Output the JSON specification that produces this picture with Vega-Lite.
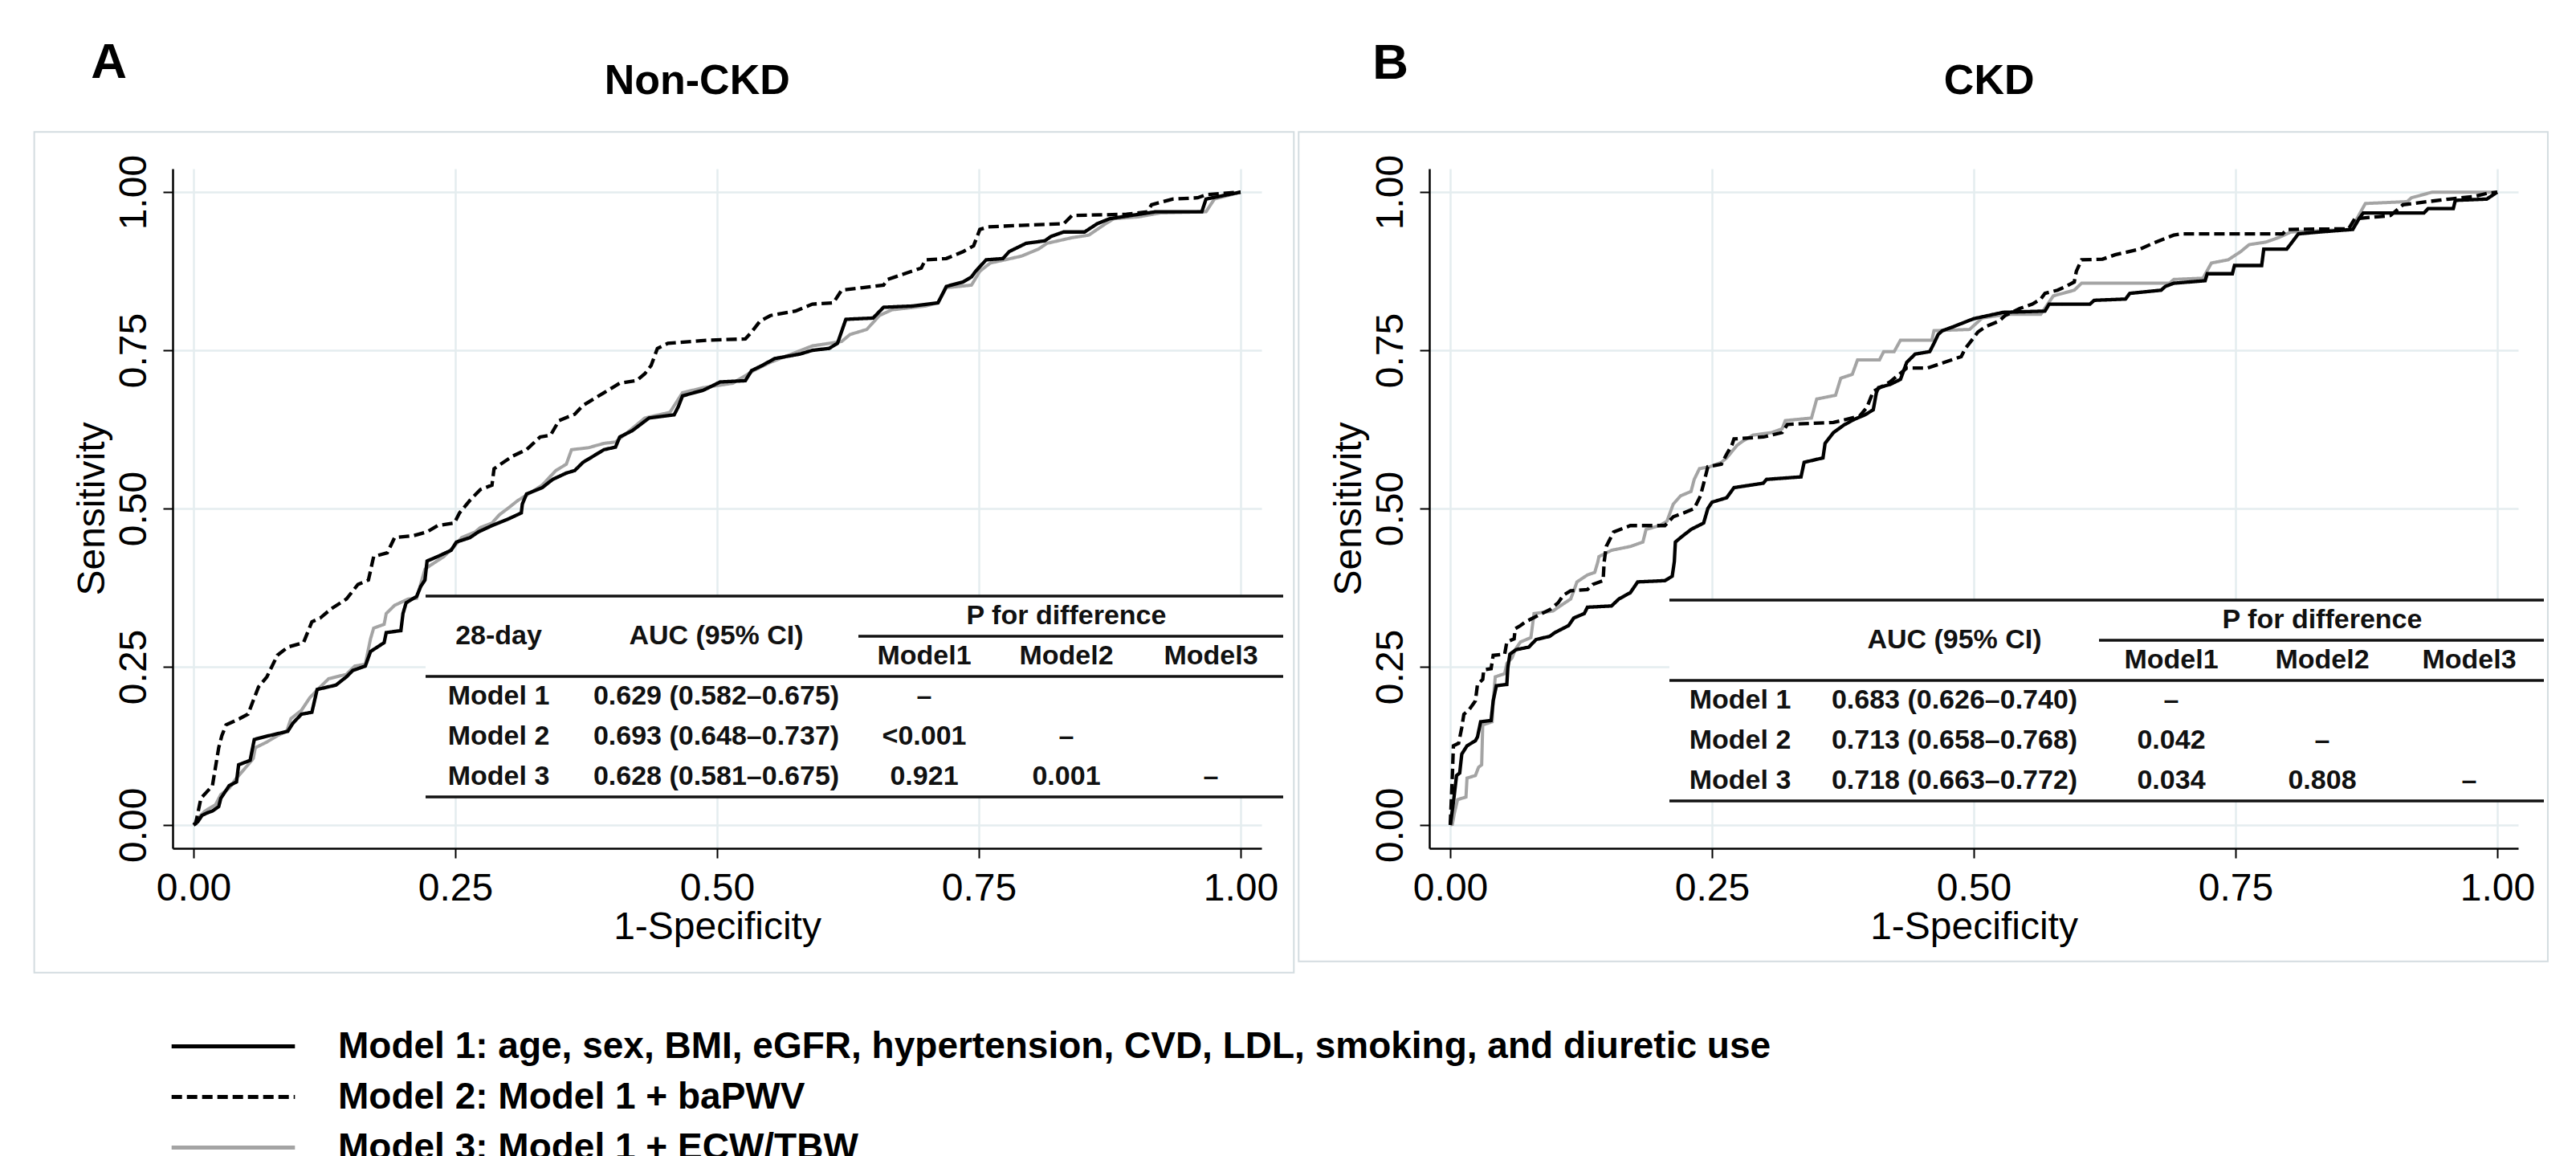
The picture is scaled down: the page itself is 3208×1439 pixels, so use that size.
{
  "$schema": "https://vega.github.io/schema/vega-lite/v6.json",
  "background": "white",
  "padding": {"left": 41, "top": 47, "right": 5, "bottom": 0},
  "bounds": "flush",
  "spacing": 209,
  "datasets": {
    "rocA": [
      {"m":"Model 1","x":0,"y":0},{"m":"Model 1","x":0.004,"y":0.005},{"m":"Model 1","x":0.008,"y":0.015},{"m":"Model 1","x":0.013,"y":0.019},{"m":"Model 1","x":0.018,"y":0.022},{"m":"Model 1","x":0.024,"y":0.029},{"m":"Model 1","x":0.026,"y":0.042},{"m":"Model 1","x":0.034,"y":0.062},{"m":"Model 1","x":0.041,"y":0.068},{"m":"Model 1","x":0.043,"y":0.095},{"m":"Model 1","x":0.054,"y":0.102},{"m":"Model 1","x":0.058,"y":0.135},{"m":"Model 1","x":0.072,"y":0.141},{"m":"Model 1","x":0.09,"y":0.148},{"m":"Model 1","x":0.095,"y":0.161},{"m":"Model 1","x":0.103,"y":0.175},{"m":"Model 1","x":0.113,"y":0.178},{"m":"Model 1","x":0.118,"y":0.214},{"m":"Model 1","x":0.136,"y":0.221},{"m":"Model 1","x":0.146,"y":0.234},{"m":"Model 1","x":0.152,"y":0.244},{"m":"Model 1","x":0.164,"y":0.251},{"m":"Model 1","x":0.169,"y":0.274},{"m":"Model 1","x":0.182,"y":0.288},{"m":"Model 1","x":0.184,"y":0.304},{"m":"Model 1","x":0.198,"y":0.307},{"m":"Model 1","x":0.2,"y":0.334},{"m":"Model 1","x":0.203,"y":0.351},{"m":"Model 1","x":0.213,"y":0.361},{"m":"Model 1","x":0.217,"y":0.377},{"m":"Model 1","x":0.221,"y":0.387},{"m":"Model 1","x":0.223,"y":0.417},{"m":"Model 1","x":0.233,"y":0.424},{"m":"Model 1","x":0.246,"y":0.434},{"m":"Model 1","x":0.251,"y":0.447},{"m":"Model 1","x":0.264,"y":0.454},{"m":"Model 1","x":0.272,"y":0.463},{"m":"Model 1","x":0.285,"y":0.473},{"m":"Model 1","x":0.3,"y":0.483},{"m":"Model 1","x":0.313,"y":0.493},{"m":"Model 1","x":0.314,"y":0.507},{"m":"Model 1","x":0.318,"y":0.523},{"m":"Model 1","x":0.333,"y":0.533},{"m":"Model 1","x":0.343,"y":0.546},{"m":"Model 1","x":0.356,"y":0.556},{"m":"Model 1","x":0.364,"y":0.56},{"m":"Model 1","x":0.372,"y":0.573},{"m":"Model 1","x":0.382,"y":0.583},{"m":"Model 1","x":0.392,"y":0.593},{"m":"Model 1","x":0.403,"y":0.597},{"m":"Model 1","x":0.407,"y":0.613},{"m":"Model 1","x":0.419,"y":0.623},{"m":"Model 1","x":0.435,"y":0.643},{"m":"Model 1","x":0.459,"y":0.648},{"m":"Model 1","x":0.463,"y":0.661},{"m":"Model 1","x":0.467,"y":0.678},{"m":"Model 1","x":0.487,"y":0.687},{"m":"Model 1","x":0.503,"y":0.7},{"m":"Model 1","x":0.527,"y":0.702},{"m":"Model 1","x":0.533,"y":0.718},{"m":"Model 1","x":0.543,"y":0.726},{"m":"Model 1","x":0.555,"y":0.737},{"m":"Model 1","x":0.579,"y":0.744},{"m":"Model 1","x":0.591,"y":0.75},{"m":"Model 1","x":0.607,"y":0.753},{"m":"Model 1","x":0.615,"y":0.761},{"m":"Model 1","x":0.623,"y":0.799},{"m":"Model 1","x":0.649,"y":0.801},{"m":"Model 1","x":0.659,"y":0.818},{"m":"Model 1","x":0.687,"y":0.82},{"m":"Model 1","x":0.711,"y":0.825},{"m":"Model 1","x":0.719,"y":0.851},{"m":"Model 1","x":0.735,"y":0.858},{"m":"Model 1","x":0.743,"y":0.866},{"m":"Model 1","x":0.747,"y":0.875},{"m":"Model 1","x":0.757,"y":0.893},{"m":"Model 1","x":0.773,"y":0.895},{"m":"Model 1","x":0.779,"y":0.906},{"m":"Model 1","x":0.795,"y":0.919},{"m":"Model 1","x":0.813,"y":0.923},{"m":"Model 1","x":0.819,"y":0.93},{"m":"Model 1","x":0.831,"y":0.937},{"m":"Model 1","x":0.851,"y":0.937},{"m":"Model 1","x":0.863,"y":0.95},{"m":"Model 1","x":0.875,"y":0.958},{"m":"Model 1","x":0.903,"y":0.965},{"m":"Model 1","x":0.919,"y":0.969},{"m":"Model 1","x":0.963,"y":0.969},{"m":"Model 1","x":0.967,"y":0.989},{"m":"Model 1","x":1,"y":1},
      {"m":"Model 2","x":0,"y":0},{"m":"Model 2","x":0.002,"y":0.002},{"m":"Model 2","x":0.007,"y":0.042},{"m":"Model 2","x":0.018,"y":0.062},{"m":"Model 2","x":0.024,"y":0.122},{"m":"Model 2","x":0.027,"y":0.141},{"m":"Model 2","x":0.031,"y":0.158},{"m":"Model 2","x":0.044,"y":0.168},{"m":"Model 2","x":0.052,"y":0.175},{"m":"Model 2","x":0.062,"y":0.218},{"m":"Model 2","x":0.07,"y":0.234},{"m":"Model 2","x":0.08,"y":0.268},{"m":"Model 2","x":0.09,"y":0.281},{"m":"Model 2","x":0.105,"y":0.288},{"m":"Model 2","x":0.113,"y":0.321},{"m":"Model 2","x":0.121,"y":0.327},{"m":"Model 2","x":0.131,"y":0.341},{"m":"Model 2","x":0.146,"y":0.357},{"m":"Model 2","x":0.157,"y":0.38},{"m":"Model 2","x":0.167,"y":0.387},{"m":"Model 2","x":0.172,"y":0.424},{"m":"Model 2","x":0.185,"y":0.43},{"m":"Model 2","x":0.192,"y":0.454},{"m":"Model 2","x":0.21,"y":0.457},{"m":"Model 2","x":0.223,"y":0.463},{"m":"Model 2","x":0.233,"y":0.473},{"m":"Model 2","x":0.249,"y":0.477},{"m":"Model 2","x":0.254,"y":0.493},{"m":"Model 2","x":0.264,"y":0.513},{"m":"Model 2","x":0.274,"y":0.53},{"m":"Model 2","x":0.285,"y":0.537},{"m":"Model 2","x":0.287,"y":0.563},{"m":"Model 2","x":0.305,"y":0.583},{"m":"Model 2","x":0.318,"y":0.593},{"m":"Model 2","x":0.331,"y":0.613},{"m":"Model 2","x":0.341,"y":0.616},{"m":"Model 2","x":0.349,"y":0.639},{"m":"Model 2","x":0.364,"y":0.649},{"m":"Model 2","x":0.372,"y":0.663},{"m":"Model 2","x":0.382,"y":0.673},{"m":"Model 2","x":0.392,"y":0.683},{"m":"Model 2","x":0.4,"y":0.691},{"m":"Model 2","x":0.407,"y":0.698},{"m":"Model 2","x":0.423,"y":0.702},{"m":"Model 2","x":0.431,"y":0.713},{"m":"Model 2","x":0.437,"y":0.726},{"m":"Model 2","x":0.443,"y":0.753},{"m":"Model 2","x":0.453,"y":0.761},{"m":"Model 2","x":0.491,"y":0.766},{"m":"Model 2","x":0.527,"y":0.768},{"m":"Model 2","x":0.533,"y":0.779},{"m":"Model 2","x":0.541,"y":0.796},{"m":"Model 2","x":0.551,"y":0.805},{"m":"Model 2","x":0.575,"y":0.812},{"m":"Model 2","x":0.591,"y":0.823},{"m":"Model 2","x":0.611,"y":0.825},{"m":"Model 2","x":0.619,"y":0.845},{"m":"Model 2","x":0.639,"y":0.849},{"m":"Model 2","x":0.659,"y":0.853},{"m":"Model 2","x":0.663,"y":0.862},{"m":"Model 2","x":0.679,"y":0.871},{"m":"Model 2","x":0.695,"y":0.88},{"m":"Model 2","x":0.699,"y":0.893},{"m":"Model 2","x":0.719,"y":0.895},{"m":"Model 2","x":0.735,"y":0.906},{"m":"Model 2","x":0.745,"y":0.915},{"m":"Model 2","x":0.751,"y":0.941},{"m":"Model 2","x":0.759,"y":0.945},{"m":"Model 2","x":0.783,"y":0.947},{"m":"Model 2","x":0.831,"y":0.95},{"m":"Model 2","x":0.839,"y":0.963},{"m":"Model 2","x":0.891,"y":0.965},{"m":"Model 2","x":0.911,"y":0.969},{"m":"Model 2","x":0.915,"y":0.98},{"m":"Model 2","x":0.935,"y":0.989},{"m":"Model 2","x":0.959,"y":0.991},{"m":"Model 2","x":0.967,"y":0.996},{"m":"Model 2","x":1,"y":1},
      {"m":"Model 3","x":0,"y":0},{"m":"Model 3","x":0.003,"y":0.009},{"m":"Model 3","x":0.011,"y":0.022},{"m":"Model 3","x":0.021,"y":0.032},{"m":"Model 3","x":0.026,"y":0.048},{"m":"Model 3","x":0.034,"y":0.058},{"m":"Model 3","x":0.04,"y":0.072},{"m":"Model 3","x":0.052,"y":0.095},{"m":"Model 3","x":0.057,"y":0.105},{"m":"Model 3","x":0.059,"y":0.122},{"m":"Model 3","x":0.07,"y":0.131},{"m":"Model 3","x":0.08,"y":0.141},{"m":"Model 3","x":0.089,"y":0.148},{"m":"Model 3","x":0.093,"y":0.168},{"m":"Model 3","x":0.103,"y":0.181},{"m":"Model 3","x":0.111,"y":0.201},{"m":"Model 3","x":0.121,"y":0.218},{"m":"Model 3","x":0.129,"y":0.231},{"m":"Model 3","x":0.146,"y":0.238},{"m":"Model 3","x":0.154,"y":0.251},{"m":"Model 3","x":0.164,"y":0.254},{"m":"Model 3","x":0.169,"y":0.294},{"m":"Model 3","x":0.172,"y":0.311},{"m":"Model 3","x":0.182,"y":0.317},{"m":"Model 3","x":0.184,"y":0.334},{"m":"Model 3","x":0.192,"y":0.347},{"m":"Model 3","x":0.205,"y":0.357},{"m":"Model 3","x":0.213,"y":0.358},{"m":"Model 3","x":0.218,"y":0.387},{"m":"Model 3","x":0.221,"y":0.404},{"m":"Model 3","x":0.226,"y":0.41},{"m":"Model 3","x":0.239,"y":0.424},{"m":"Model 3","x":0.249,"y":0.44},{"m":"Model 3","x":0.256,"y":0.454},{"m":"Model 3","x":0.269,"y":0.463},{"m":"Model 3","x":0.274,"y":0.47},{"m":"Model 3","x":0.285,"y":0.477},{"m":"Model 3","x":0.292,"y":0.49},{"m":"Model 3","x":0.3,"y":0.5},{"m":"Model 3","x":0.31,"y":0.513},{"m":"Model 3","x":0.32,"y":0.523},{"m":"Model 3","x":0.333,"y":0.537},{"m":"Model 3","x":0.346,"y":0.56},{"m":"Model 3","x":0.356,"y":0.57},{"m":"Model 3","x":0.361,"y":0.593},{"m":"Model 3","x":0.377,"y":0.596},{"m":"Model 3","x":0.392,"y":0.603},{"m":"Model 3","x":0.403,"y":0.605},{"m":"Model 3","x":0.415,"y":0.621},{"m":"Model 3","x":0.431,"y":0.643},{"m":"Model 3","x":0.455,"y":0.652},{"m":"Model 3","x":0.467,"y":0.683},{"m":"Model 3","x":0.487,"y":0.691},{"m":"Model 3","x":0.515,"y":0.698},{"m":"Model 3","x":0.535,"y":0.718},{"m":"Model 3","x":0.551,"y":0.731},{"m":"Model 3","x":0.571,"y":0.744},{"m":"Model 3","x":0.591,"y":0.757},{"m":"Model 3","x":0.619,"y":0.764},{"m":"Model 3","x":0.627,"y":0.775},{"m":"Model 3","x":0.643,"y":0.783},{"m":"Model 3","x":0.655,"y":0.805},{"m":"Model 3","x":0.667,"y":0.814},{"m":"Model 3","x":0.699,"y":0.82},{"m":"Model 3","x":0.711,"y":0.825},{"m":"Model 3","x":0.719,"y":0.849},{"m":"Model 3","x":0.743,"y":0.853},{"m":"Model 3","x":0.751,"y":0.875},{"m":"Model 3","x":0.761,"y":0.888},{"m":"Model 3","x":0.775,"y":0.893},{"m":"Model 3","x":0.791,"y":0.899},{"m":"Model 3","x":0.807,"y":0.91},{"m":"Model 3","x":0.815,"y":0.919},{"m":"Model 3","x":0.839,"y":0.928},{"m":"Model 3","x":0.855,"y":0.932},{"m":"Model 3","x":0.871,"y":0.95},{"m":"Model 3","x":0.879,"y":0.958},{"m":"Model 3","x":0.903,"y":0.961},{"m":"Model 3","x":0.923,"y":0.967},{"m":"Model 3","x":0.967,"y":0.969},{"m":"Model 3","x":0.975,"y":0.989},{"m":"Model 3","x":1,"y":1}
    ],
    "rocB": [
      {"m":"Model 1","x":0,"y":0},{"m":"Model 1","x":0.001,"y":0.011},{"m":"Model 1","x":0.003,"y":0.036},{"m":"Model 1","x":0.006,"y":0.078},{"m":"Model 1","x":0.009,"y":0.082},{"m":"Model 1","x":0.011,"y":0.112},{"m":"Model 1","x":0.016,"y":0.125},{"m":"Model 1","x":0.024,"y":0.133},{"m":"Model 1","x":0.026,"y":0.139},{"m":"Model 1","x":0.029,"y":0.163},{"m":"Model 1","x":0.039,"y":0.165},{"m":"Model 1","x":0.041,"y":0.196},{"m":"Model 1","x":0.044,"y":0.22},{"m":"Model 1","x":0.054,"y":0.222},{"m":"Model 1","x":0.055,"y":0.249},{"m":"Model 1","x":0.057,"y":0.27},{"m":"Model 1","x":0.063,"y":0.277},{"m":"Model 1","x":0.075,"y":0.281},{"m":"Model 1","x":0.082,"y":0.293},{"m":"Model 1","x":0.095,"y":0.298},{"m":"Model 1","x":0.1,"y":0.304},{"m":"Model 1","x":0.113,"y":0.315},{"m":"Model 1","x":0.118,"y":0.327},{"m":"Model 1","x":0.128,"y":0.334},{"m":"Model 1","x":0.131,"y":0.344},{"m":"Model 1","x":0.154,"y":0.346},{"m":"Model 1","x":0.161,"y":0.357},{"m":"Model 1","x":0.172,"y":0.367},{"m":"Model 1","x":0.179,"y":0.384},{"m":"Model 1","x":0.205,"y":0.386},{"m":"Model 1","x":0.212,"y":0.393},{"m":"Model 1","x":0.214,"y":0.416},{"m":"Model 1","x":0.215,"y":0.447},{"m":"Model 1","x":0.22,"y":0.454},{"m":"Model 1","x":0.23,"y":0.467},{"m":"Model 1","x":0.242,"y":0.477},{"m":"Model 1","x":0.246,"y":0.5},{"m":"Model 1","x":0.25,"y":0.51},{"m":"Model 1","x":0.264,"y":0.517},{"m":"Model 1","x":0.271,"y":0.533},{"m":"Model 1","x":0.299,"y":0.54},{"m":"Model 1","x":0.302,"y":0.546},{"m":"Model 1","x":0.335,"y":0.55},{"m":"Model 1","x":0.338,"y":0.573},{"m":"Model 1","x":0.356,"y":0.58},{"m":"Model 1","x":0.358,"y":0.603},{"m":"Model 1","x":0.366,"y":0.62},{"m":"Model 1","x":0.376,"y":0.632},{"m":"Model 1","x":0.386,"y":0.641},{"m":"Model 1","x":0.396,"y":0.648},{"m":"Model 1","x":0.404,"y":0.656},{"m":"Model 1","x":0.407,"y":0.683},{"m":"Model 1","x":0.409,"y":0.691},{"m":"Model 1","x":0.42,"y":0.696},{"m":"Model 1","x":0.43,"y":0.704},{"m":"Model 1","x":0.436,"y":0.731},{"m":"Model 1","x":0.444,"y":0.744},{"m":"Model 1","x":0.458,"y":0.748},{"m":"Model 1","x":0.462,"y":0.761},{"m":"Model 1","x":0.466,"y":0.775},{"m":"Model 1","x":0.47,"y":0.781},{"m":"Model 1","x":0.48,"y":0.787},{"m":"Model 1","x":0.5,"y":0.8},{"m":"Model 1","x":0.528,"y":0.81},{"m":"Model 1","x":0.568,"y":0.812},{"m":"Model 1","x":0.572,"y":0.823},{"m":"Model 1","x":0.611,"y":0.823},{"m":"Model 1","x":0.615,"y":0.829},{"m":"Model 1","x":0.645,"y":0.831},{"m":"Model 1","x":0.649,"y":0.84},{"m":"Model 1","x":0.679,"y":0.845},{"m":"Model 1","x":0.683,"y":0.851},{"m":"Model 1","x":0.691,"y":0.856},{"m":"Model 1","x":0.721,"y":0.86},{"m":"Model 1","x":0.723,"y":0.871},{"m":"Model 1","x":0.747,"y":0.871},{"m":"Model 1","x":0.749,"y":0.884},{"m":"Model 1","x":0.775,"y":0.884},{"m":"Model 1","x":0.777,"y":0.91},{"m":"Model 1","x":0.799,"y":0.91},{"m":"Model 1","x":0.805,"y":0.923},{"m":"Model 1","x":0.81,"y":0.934},{"m":"Model 1","x":0.83,"y":0.937},{"m":"Model 1","x":0.862,"y":0.941},{"m":"Model 1","x":0.868,"y":0.958},{"m":"Model 1","x":0.872,"y":0.967},{"m":"Model 1","x":0.93,"y":0.967},{"m":"Model 1","x":0.934,"y":0.974},{"m":"Model 1","x":0.958,"y":0.974},{"m":"Model 1","x":0.96,"y":0.987},{"m":"Model 1","x":0.99,"y":0.989},{"m":"Model 1","x":1,"y":1},
      {"m":"Model 2","x":0,"y":0},{"m":"Model 2","x":0.002,"y":0.078},{"m":"Model 2","x":0.003,"y":0.125},{"m":"Model 2","x":0.008,"y":0.129},{"m":"Model 2","x":0.011,"y":0.154},{"m":"Model 2","x":0.013,"y":0.175},{"m":"Model 2","x":0.018,"y":0.182},{"m":"Model 2","x":0.024,"y":0.196},{"m":"Model 2","x":0.026,"y":0.222},{"m":"Model 2","x":0.031,"y":0.23},{"m":"Model 2","x":0.032,"y":0.245},{"m":"Model 2","x":0.039,"y":0.247},{"m":"Model 2","x":0.041,"y":0.268},{"m":"Model 2","x":0.052,"y":0.27},{"m":"Model 2","x":0.054,"y":0.289},{"m":"Model 2","x":0.061,"y":0.294},{"m":"Model 2","x":0.062,"y":0.31},{"m":"Model 2","x":0.067,"y":0.315},{"m":"Model 2","x":0.072,"y":0.321},{"m":"Model 2","x":0.085,"y":0.332},{"m":"Model 2","x":0.095,"y":0.34},{"m":"Model 2","x":0.103,"y":0.351},{"m":"Model 2","x":0.108,"y":0.363},{"m":"Model 2","x":0.115,"y":0.37},{"m":"Model 2","x":0.131,"y":0.372},{"m":"Model 2","x":0.136,"y":0.38},{"m":"Model 2","x":0.146,"y":0.386},{"m":"Model 2","x":0.147,"y":0.416},{"m":"Model 2","x":0.149,"y":0.44},{"m":"Model 2","x":0.156,"y":0.463},{"m":"Model 2","x":0.172,"y":0.473},{"m":"Model 2","x":0.205,"y":0.473},{"m":"Model 2","x":0.213,"y":0.487},{"m":"Model 2","x":0.223,"y":0.493},{"m":"Model 2","x":0.233,"y":0.5},{"m":"Model 2","x":0.239,"y":0.52},{"m":"Model 2","x":0.243,"y":0.546},{"m":"Model 2","x":0.246,"y":0.566},{"m":"Model 2","x":0.259,"y":0.57},{"m":"Model 2","x":0.264,"y":0.586},{"m":"Model 2","x":0.269,"y":0.6},{"m":"Model 2","x":0.271,"y":0.61},{"m":"Model 2","x":0.299,"y":0.613},{"m":"Model 2","x":0.317,"y":0.62},{"m":"Model 2","x":0.322,"y":0.633},{"m":"Model 2","x":0.366,"y":0.636},{"m":"Model 2","x":0.391,"y":0.646},{"m":"Model 2","x":0.398,"y":0.66},{"m":"Model 2","x":0.404,"y":0.685},{"m":"Model 2","x":0.42,"y":0.7},{"m":"Model 2","x":0.436,"y":0.722},{"m":"Model 2","x":0.456,"y":0.722},{"m":"Model 2","x":0.472,"y":0.731},{"m":"Model 2","x":0.488,"y":0.74},{"m":"Model 2","x":0.492,"y":0.753},{"m":"Model 2","x":0.5,"y":0.77},{"m":"Model 2","x":0.504,"y":0.779},{"m":"Model 2","x":0.512,"y":0.788},{"m":"Model 2","x":0.524,"y":0.796},{"m":"Model 2","x":0.53,"y":0.805},{"m":"Model 2","x":0.544,"y":0.816},{"m":"Model 2","x":0.556,"y":0.823},{"m":"Model 2","x":0.564,"y":0.831},{"m":"Model 2","x":0.568,"y":0.84},{"m":"Model 2","x":0.58,"y":0.845},{"m":"Model 2","x":0.588,"y":0.851},{"m":"Model 2","x":0.596,"y":0.858},{"m":"Model 2","x":0.598,"y":0.875},{"m":"Model 2","x":0.603,"y":0.893},{"m":"Model 2","x":0.623,"y":0.894},{"m":"Model 2","x":0.635,"y":0.901},{"m":"Model 2","x":0.659,"y":0.91},{"m":"Model 2","x":0.671,"y":0.919},{"m":"Model 2","x":0.691,"y":0.932},{"m":"Model 2","x":0.699,"y":0.934},{"m":"Model 2","x":0.795,"y":0.934},{"m":"Model 2","x":0.799,"y":0.941},{"m":"Model 2","x":0.858,"y":0.942},{"m":"Model 2","x":0.864,"y":0.958},{"m":"Model 2","x":0.886,"y":0.961},{"m":"Model 2","x":0.898,"y":0.963},{"m":"Model 2","x":0.91,"y":0.98},{"m":"Model 2","x":0.934,"y":0.985},{"m":"Model 2","x":0.954,"y":0.989},{"m":"Model 2","x":0.978,"y":0.993},{"m":"Model 2","x":0.99,"y":0.998},{"m":"Model 2","x":1,"y":1},
      {"m":"Model 3","x":0,"y":0},{"m":"Model 3","x":0.002,"y":0.001},{"m":"Model 3","x":0.004,"y":0.019},{"m":"Model 3","x":0.007,"y":0.04},{"m":"Model 3","x":0.015,"y":0.044},{"m":"Model 3","x":0.016,"y":0.074},{"m":"Model 3","x":0.024,"y":0.078},{"m":"Model 3","x":0.027,"y":0.091},{"m":"Model 3","x":0.03,"y":0.095},{"m":"Model 3","x":0.031,"y":0.158},{"m":"Model 3","x":0.04,"y":0.163},{"m":"Model 3","x":0.041,"y":0.196},{"m":"Model 3","x":0.043,"y":0.234},{"m":"Model 3","x":0.052,"y":0.239},{"m":"Model 3","x":0.054,"y":0.255},{"m":"Model 3","x":0.059,"y":0.264},{"m":"Model 3","x":0.062,"y":0.277},{"m":"Model 3","x":0.067,"y":0.289},{"m":"Model 3","x":0.077,"y":0.296},{"m":"Model 3","x":0.08,"y":0.334},{"m":"Model 3","x":0.098,"y":0.338},{"m":"Model 3","x":0.105,"y":0.346},{"m":"Model 3","x":0.115,"y":0.357},{"m":"Model 3","x":0.118,"y":0.37},{"m":"Model 3","x":0.121,"y":0.384},{"m":"Model 3","x":0.131,"y":0.395},{"m":"Model 3","x":0.138,"y":0.399},{"m":"Model 3","x":0.141,"y":0.416},{"m":"Model 3","x":0.142,"y":0.424},{"m":"Model 3","x":0.154,"y":0.434},{"m":"Model 3","x":0.172,"y":0.44},{"m":"Model 3","x":0.184,"y":0.447},{"m":"Model 3","x":0.187,"y":0.467},{"m":"Model 3","x":0.2,"y":0.473},{"m":"Model 3","x":0.207,"y":0.48},{"m":"Model 3","x":0.213,"y":0.507},{"m":"Model 3","x":0.22,"y":0.52},{"m":"Model 3","x":0.23,"y":0.527},{"m":"Model 3","x":0.233,"y":0.546},{"m":"Model 3","x":0.238,"y":0.563},{"m":"Model 3","x":0.248,"y":0.566},{"m":"Model 3","x":0.259,"y":0.573},{"m":"Model 3","x":0.264,"y":0.58},{"m":"Model 3","x":0.274,"y":0.6},{"m":"Model 3","x":0.279,"y":0.606},{"m":"Model 3","x":0.289,"y":0.616},{"m":"Model 3","x":0.307,"y":0.62},{"m":"Model 3","x":0.317,"y":0.626},{"m":"Model 3","x":0.32,"y":0.639},{"m":"Model 3","x":0.345,"y":0.643},{"m":"Model 3","x":0.35,"y":0.673},{"m":"Model 3","x":0.368,"y":0.679},{"m":"Model 3","x":0.373,"y":0.706},{"m":"Model 3","x":0.384,"y":0.712},{"m":"Model 3","x":0.389,"y":0.735},{"m":"Model 3","x":0.41,"y":0.735},{"m":"Model 3","x":0.414,"y":0.748},{"m":"Model 3","x":0.424,"y":0.748},{"m":"Model 3","x":0.43,"y":0.766},{"m":"Model 3","x":0.46,"y":0.766},{"m":"Model 3","x":0.462,"y":0.781},{"m":"Model 3","x":0.496,"y":0.783},{"m":"Model 3","x":0.508,"y":0.801},{"m":"Model 3","x":0.532,"y":0.807},{"m":"Model 3","x":0.564,"y":0.807},{"m":"Model 3","x":0.576,"y":0.836},{"m":"Model 3","x":0.596,"y":0.845},{"m":"Model 3","x":0.603,"y":0.856},{"m":"Model 3","x":0.687,"y":0.856},{"m":"Model 3","x":0.691,"y":0.862},{"m":"Model 3","x":0.719,"y":0.864},{"m":"Model 3","x":0.727,"y":0.888},{"m":"Model 3","x":0.743,"y":0.893},{"m":"Model 3","x":0.755,"y":0.906},{"m":"Model 3","x":0.763,"y":0.917},{"m":"Model 3","x":0.779,"y":0.921},{"m":"Model 3","x":0.791,"y":0.928},{"m":"Model 3","x":0.803,"y":0.937},{"m":"Model 3","x":0.858,"y":0.941},{"m":"Model 3","x":0.866,"y":0.958},{"m":"Model 3","x":0.874,"y":0.982},{"m":"Model 3","x":0.914,"y":0.985},{"m":"Model 3","x":0.918,"y":0.991},{"m":"Model 3","x":0.938,"y":1},{"m":"Model 3","x":1,"y":1}
    ],
    "tabA": [
      {"c":3,"r":0,"t":"P for difference"},
      {"c":0,"r":0.5,"t":"28-day"},{"c":1,"r":0.5,"t":"AUC (95% CI)"},
      {"c":2,"r":1,"t":"Model1"},{"c":3,"r":1,"t":"Model2"},{"c":4,"r":1,"t":"Model3"},
      {"c":0,"r":2,"t":"Model 1"},{"c":1,"r":2,"t":"0.629 (0.582–0.675)"},{"c":2,"r":2,"t":"–"},
      {"c":0,"r":3,"t":"Model 2"},{"c":1,"r":3,"t":"0.693 (0.648–0.737)"},{"c":2,"r":3,"t":"<0.001"},{"c":3,"r":3,"t":"–"},
      {"c":0,"r":4,"t":"Model 3"},{"c":1,"r":4,"t":"0.628 (0.581–0.675)"},{"c":2,"r":4,"t":"0.921"},{"c":3,"r":4,"t":"0.001"},{"c":4,"r":4,"t":"–"}
    ],
    "tabB": [
      {"c":3,"r":0,"t":"P for difference"},
      {"c":1,"r":0.5,"t":"AUC (95% CI)"},
      {"c":2,"r":1,"t":"Model1"},{"c":3,"r":1,"t":"Model2"},{"c":4,"r":1,"t":"Model3"},
      {"c":0,"r":2,"t":"Model 1"},{"c":1,"r":2,"t":"0.683 (0.626–0.740)"},{"c":2,"r":2,"t":"–"},
      {"c":0,"r":3,"t":"Model 2"},{"c":1,"r":3,"t":"0.713 (0.658–0.768)"},{"c":2,"r":3,"t":"0.042"},{"c":3,"r":3,"t":"–"},
      {"c":0,"r":4,"t":"Model 3"},{"c":1,"r":4,"t":"0.718 (0.663–0.772)"},{"c":2,"r":4,"t":"0.034"},{"c":3,"r":4,"t":"0.808"},{"c":4,"r":4,"t":"–"}
    ],
    "rules": [
      {"r":-0.5,"c1":-0.5,"c2":4.5},{"r":0.5,"c1":1.5,"c2":4.5},{"r":1.5,"c1":-0.5,"c2":4.5},{"r":4.5,"c1":-0.5,"c2":4.5}
    ]
  },
  "hconcat": [
    {
      "width": 1356, "height": 846,
      "layer": [
        {
          "layer": [
            {
              "data": {"name": "rocA"},
              "transform": [{"filter": "datum.m == 'Model 3'"}],
              "mark": {"type": "line", "strokeWidth": 4, "clip": false},
              "encoding": {
                "x": {"field": "x", "type": "quantitative", "scale": {"domain": [-0.02, 1.02], "nice": false, "zero": false}, "axis": {"values": [0, 0.25, 0.5, 0.75, 1], "format": ".2f", "title": "1-Specificity"}},
                "y": {"field": "y", "type": "quantitative", "scale": {"domain": [-0.037, 1.037], "nice": false, "zero": false}, "axis": {"values": [0, 0.25, 0.5, 0.75, 1], "format": ".2f", "title": "Sensitivity"}},
                "color": {"field": "m", "type": "nominal", "scale": {"domain": ["Model 1", "Model 2", "Model 3"], "range": ["#000000", "#000000", "#A4A4A4"]}, "legend": {"title": null, "labelExpr": "datum.label == 'Model 1' ? 'Model 1: age, sex, BMI, eGFR, hypertension, CVD, LDL, smoking, and diuretic use' : datum.label == 'Model 2' ? 'Model 2: Model 1 + baPWV' : 'Model 3: Model 1 + ECW/TBW'"}},
                "strokeDash": {"field": "m", "type": "nominal", "scale": {"domain": ["Model 1", "Model 2", "Model 3"], "range": [[1, 0], [13, 6], [1, 0]]}, "legend": {"title": null, "labelExpr": "datum.label == 'Model 1' ? 'Model 1: age, sex, BMI, eGFR, hypertension, CVD, LDL, smoking, and diuretic use' : datum.label == 'Model 2' ? 'Model 2: Model 1 + baPWV' : 'Model 3: Model 1 + ECW/TBW'"}}
              }
            },
            {
              "data": {"name": "rocA"},
              "transform": [{"filter": "datum.m != 'Model 3'"}],
              "mark": {"type": "line", "strokeWidth": 4.3, "clip": false},
              "encoding": {
                "x": {"field": "x", "type": "quantitative"},
                "y": {"field": "y", "type": "quantitative"},
                "color": {"field": "m", "type": "nominal"},
                "strokeDash": {"field": "m", "type": "nominal"}
              }
            },
            {
              "data": {"values": [{}]},
              "mark": {"type": "rect", "fill": null, "stroke": "#D3DCE0", "strokeWidth": 2, "clip": false},
              "encoding": {
                "x": {"datum": -0.1522, "type": "quantitative"},
                "x2": {"datum": 1.0509},
                "y": {"datum": 1.0952, "type": "quantitative"},
                "y2": {"datum": -0.2335}
              }
            },
            {
              "data": {"values": [{}]},
              "mark": {"type": "text", "text": "A", "align": "left", "baseline": "alphabetic", "fontSize": 62, "fontWeight": "bold", "font": "Liberation Sans", "color": "#000", "clip": false},
              "encoding": {
                "x": {"datum": -0.098, "type": "quantitative"},
                "y": {"datum": 1.18, "type": "quantitative"}
              }
            },
            {
              "data": {"values": [{}]},
              "mark": {"type": "text", "text": "Non-CKD", "align": "center", "baseline": "alphabetic", "fontSize": 52, "fontWeight": "bold", "font": "Liberation Sans", "color": "#000", "clip": false},
              "encoding": {
                "x": {"datum": 0.481, "type": "quantitative"},
                "y": {"datum": 1.155, "type": "quantitative"}
              }
            }
          ]
        },
        {
          "layer": [
            {
              "data": {"values": [{}]},
              "mark": {"type": "rect", "fill": "white", "clip": false},
              "encoding": {
                "x": {"datum": -0.5, "type": "quantitative", "scale": {"domain": [-0.5, 0, 1, 1.5, 2, 3, 4, 4.5], "range": [315, 406, 677, 854, 936, 1113, 1293, 1383], "nice": false, "zero": false}, "axis": null},
                "x2": {"datum": 4.5},
                "y": {"datum": -0.5, "type": "quantitative", "scale": {"domain": [0, 4], "range": [557, 757], "nice": false, "zero": false}, "axis": null},
                "y2": {"datum": 4.5}
              }
            },
            {
              "data": {"name": "rules"},
              "mark": {"type": "rule", "color": "#111", "strokeWidth": 3.5, "clip": false},
              "encoding": {
                "x": {"field": "c1", "type": "quantitative", "axis": null},
                "x2": {"field": "c2"},
                "y": {"field": "r", "type": "quantitative", "axis": null}
              }
            },
            {
              "data": {"name": "tabA"},
              "mark": {"type": "text", "align": "center", "baseline": "middle", "fontSize": 34, "fontWeight": "bold", "font": "Liberation Sans", "color": "#111", "clip": false},
              "encoding": {
                "x": {"field": "c", "type": "quantitative", "axis": null},
                "y": {"field": "r", "type": "quantitative", "axis": null},
                "text": {"field": "t"}
              }
            }
          ]
        }
      ],
      "resolve": {"scale": {"x": "independent", "y": "independent"}}
    },
    {
      "width": 1356, "height": 846,
      "layer": [
        {
          "layer": [
            {
              "data": {"name": "rocB"},
              "transform": [{"filter": "datum.m == 'Model 3'"}],
              "mark": {"type": "line", "strokeWidth": 4, "clip": false},
              "encoding": {
                "x": {"field": "x", "type": "quantitative", "scale": {"domain": [-0.02, 1.02], "nice": false, "zero": false}, "axis": {"values": [0, 0.25, 0.5, 0.75, 1], "format": ".2f", "title": "1-Specificity"}},
                "y": {"field": "y", "type": "quantitative", "scale": {"domain": [-0.037, 1.037], "nice": false, "zero": false}, "axis": {"values": [0, 0.25, 0.5, 0.75, 1], "format": ".2f", "title": "Sensitivity"}},
                "color": {"field": "m", "type": "nominal", "scale": {"domain": ["Model 1", "Model 2", "Model 3"], "range": ["#000000", "#000000", "#A4A4A4"]}, "legend": {"title": null, "labelExpr": "datum.label == 'Model 1' ? 'Model 1: age, sex, BMI, eGFR, hypertension, CVD, LDL, smoking, and diuretic use' : datum.label == 'Model 2' ? 'Model 2: Model 1 + baPWV' : 'Model 3: Model 1 + ECW/TBW'"}},
                "strokeDash": {"field": "m", "type": "nominal", "scale": {"domain": ["Model 1", "Model 2", "Model 3"], "range": [[1, 0], [13, 6], [1, 0]]}, "legend": {"title": null, "labelExpr": "datum.label == 'Model 1' ? 'Model 1: age, sex, BMI, eGFR, hypertension, CVD, LDL, smoking, and diuretic use' : datum.label == 'Model 2' ? 'Model 2: Model 1 + baPWV' : 'Model 3: Model 1 + ECW/TBW'"}}
              }
            },
            {
              "data": {"name": "rocB"},
              "transform": [{"filter": "datum.m != 'Model 3'"}],
              "mark": {"type": "line", "strokeWidth": 4.3, "clip": false},
              "encoding": {
                "x": {"field": "x", "type": "quantitative"},
                "y": {"field": "y", "type": "quantitative"},
                "color": {"field": "m", "type": "nominal"},
                "strokeDash": {"field": "m", "type": "nominal"}
              }
            },
            {
              "data": {"values": [{}]},
              "mark": {"type": "rect", "fill": null, "stroke": "#D3DCE0", "strokeWidth": 2, "clip": false},
              "encoding": {
                "x": {"datum": -0.1448, "type": "quantitative"},
                "x2": {"datum": 1.0483},
                "y": {"datum": 1.0952, "type": "quantitative"},
                "y2": {"datum": -0.2157}
              }
            },
            {
              "data": {"values": [{}]},
              "mark": {"type": "text", "text": "B", "align": "left", "baseline": "alphabetic", "fontSize": 62, "fontWeight": "bold", "font": "Liberation Sans", "color": "#000", "clip": false},
              "encoding": {
                "x": {"datum": -0.0743, "type": "quantitative"},
                "y": {"datum": 1.179, "type": "quantitative"}
              }
            },
            {
              "data": {"values": [{}]},
              "mark": {"type": "text", "text": "CKD", "align": "center", "baseline": "alphabetic", "fontSize": 52, "fontWeight": "bold", "font": "Liberation Sans", "color": "#000", "clip": false},
              "encoding": {
                "x": {"datum": 0.5147, "type": "quantitative"},
                "y": {"datum": 1.155, "type": "quantitative"}
              }
            }
          ]
        },
        {
          "layer": [
            {
              "data": {"values": [{}]},
              "mark": {"type": "rect", "fill": "white", "clip": false},
              "encoding": {
                "x": {"datum": -0.5, "type": "quantitative", "scale": {"domain": [-0.5, 0, 1, 1.5, 2, 3, 4, 4.5], "range": [299, 387, 654, 834, 924, 1112, 1295, 1388], "nice": false, "zero": false}, "axis": null},
                "x2": {"datum": 4.5},
                "y": {"datum": -0.5, "type": "quantitative", "scale": {"domain": [0, 4], "range": [562, 762], "nice": false, "zero": false}, "axis": null},
                "y2": {"datum": 4.5}
              }
            },
            {
              "data": {"name": "rules"},
              "mark": {"type": "rule", "color": "#111", "strokeWidth": 3.5, "clip": false},
              "encoding": {
                "x": {"field": "c1", "type": "quantitative", "axis": null},
                "x2": {"field": "c2"},
                "y": {"field": "r", "type": "quantitative", "axis": null}
              }
            },
            {
              "data": {"name": "tabB"},
              "mark": {"type": "text", "align": "center", "baseline": "middle", "fontSize": 34, "fontWeight": "bold", "font": "Liberation Sans", "color": "#111", "clip": false},
              "encoding": {
                "x": {"field": "c", "type": "quantitative", "axis": null},
                "y": {"field": "r", "type": "quantitative", "axis": null},
                "text": {"field": "t"}
              }
            }
          ]
        }
      ],
      "resolve": {"scale": {"x": "independent", "y": "independent"}}
    }
  ],
  "config": {
    "view": {"stroke": null},
    "font": "Liberation Sans",
    "axis": {
      "labelFont": "Liberation Sans", "labelFontSize": 48, "labelColor": "#000",
      "labelFlush": false, "labelOverlap": false,
      "tickSize": 12, "tickWidth": 2, "tickColor": "#000",
      "domainColor": "#000", "domainWidth": 2.5,
      "grid": true, "gridColor": "#E4EDEF", "gridWidth": 2.5,
      "titleFont": "Liberation Sans", "titleFontSize": 48, "titleFontWeight": "normal", "titleColor": "#000"
    },
    "axisX": {"labelPadding": 14, "titlePadding": 0},
    "axisY": {"labelAngle": 270, "labelAlign": "center", "labelBaseline": "bottom", "labelPadding": 12, "titlePadding": 4},
    "legend": {
      "orient": "none", "legendX": 41, "legendY": 1058,
      "symbolType": "M-2.4,0H2.4", "symbolSize": 4096, "symbolStrokeWidth": 5,
      "labelFont": "Liberation Sans", "labelFontSize": 46, "labelFontWeight": "bold", "labelColor": "#000",
      "labelLimit": 3000, "labelOffset": 96, "rowPadding": 5, "padding": 0
    }
  }
}
